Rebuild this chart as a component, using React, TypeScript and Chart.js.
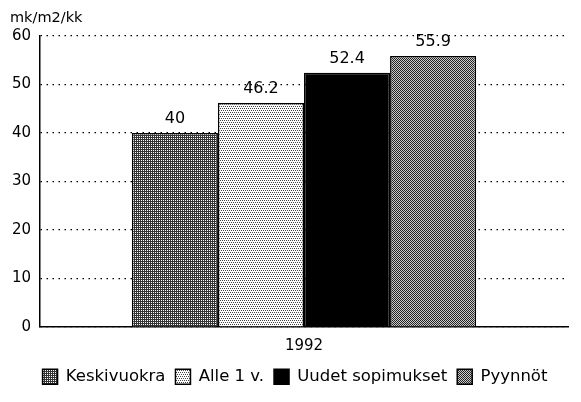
import React, { useEffect, useRef } from "react";
import { Chart, registerables } from "chart.js";
Chart.register(...registerables);

const categories = ["1992"];
const seriesNames = ["Keskivuokra", "Alle 1 v.", "Uudet sopimukset", "Pyynnöt"];
const keskivuokra = [40];
const alle1v = [46.2];
const uudetSopimukset = [52.4];
const pyynnot = [55.9];
const valueLabels = [["40"], ["46.2"], ["52.4"], ["55.9"]];
const yTitle = "mk/m2/kk";
const yMin = 0;
const yMax = 60;
const yStep = 10;

const FONT = "'DejaVu Sans', sans-serif";

function makePattern(rows: string[], dark: string, light: string) {
  const c = document.createElement("canvas");
  c.width = rows[0].length;
  c.height = rows.length;
  const x = c.getContext("2d")!;
  rows.forEach((r, j) =>
    [...r].forEach((ch, i) => {
      x.fillStyle = ch === "#" ? dark : light;
      x.fillRect(i, j, 1, 1);
    })
  );
  return x.createPattern(c, "repeat")!;
}

export default function App() {
  const ref = useRef<HTMLCanvasElement>(null);
  useEffect(() => {
    const pKesk = makePattern(["#.", "##"], "#333333", "#ffffff");
    const pAlle = makePattern(["#.#.", "....", ".#.#", "...."], "#444444", "#ffffff");
    const pUudet = "#000000";
    const pPyyn = makePattern(["#.", ".#"], "#222222", "#cccccc");
    const fills = [pKesk, pAlle, pUudet, pPyyn];
    const data = [keskivuokra, alle1v, uudetSopimukset, pyynnot];

    const valuePlugin = {
      id: "valueLabels",
      afterDatasetsDraw(chart: any) {
        const ctx = chart.ctx;
        ctx.save();
        ctx.font = `16px ${FONT}`;
        ctx.fillStyle = "#000";
        ctx.textAlign = "center";
        ctx.textBaseline = "bottom";
        chart.data.datasets.forEach((ds: any, i: number) => {
          const meta = chart.getDatasetMeta(i);
          meta.data.forEach((el: any, j: number) => {
            ctx.fillText(valueLabels[i][j], el.x, el.y - 6);
          });
        });
        ctx.restore();
      },
    };
    const titlePlugin = {
      id: "yTitle",
      afterDraw(chart: any) {
        const ctx = chart.ctx;
        ctx.save();
        ctx.font = `14.5px ${FONT}`;
        ctx.fillStyle = "#000";
        ctx.textAlign = "left";
        ctx.textBaseline = "middle";
        ctx.fillText(yTitle, chart.chartArea.left - 30, chart.chartArea.top - 18);
        ctx.restore();
      },
    };
    const legendShift = {
      id: "legendShift",
      afterLayout(chart: any) {
        const lg = chart.legend;
        if (lg) {
          lg.left += 11;
          lg.right += 11;
        }
      },
    };

    const chart = new Chart(ref.current!, {
      type: "bar",
      data: {
        labels: categories,
        datasets: seriesNames.map((name, i) => ({
          label: name,
          data: data[i],
          backgroundColor: fills[i] as any,
          borderColor: "#000",
          borderWidth: 1.5,
        })),
      },
      options: {
        responsive: false,
        animation: false,
        layout: { padding: { top: 36, right: 13, bottom: 7, left: 0 } },
        datasets: { bar: { barPercentage: 1, categoryPercentage: 0.652 } },
        scales: {
          x: {
            grid: { display: false, drawTicks: false },
            border: { display: true, color: "#000", width: 1.5 },
            ticks: { color: "#000", padding: 10, font: { family: FONT, size: 15 } },
            afterFit: (s: any) => { s.height = 31.5; },
          },
          y: {
            min: yMin,
            max: yMax,
            ticks: { stepSize: yStep, color: "#000", padding: 9, font: { family: FONT, size: 15 } },
            grid: { color: "#000", lineWidth: 1.2, drawTicks: false },
            border: { display: true, color: "#000", width: 1.5, dash: [1.5, 4.5] },
            afterFit: (s: any) => { s.width = 40; },
          },
        },
        plugins: {
          legend: {
            position: "bottom",
            labels: {
              boxWidth: 15,
              boxHeight: 15,
              padding: 10,
              color: "#000",
              font: { family: FONT, size: 16.5 },
            },
          },
          tooltip: { enabled: false },
        },
      },
      plugins: [valuePlugin, titlePlugin, legendShift],
    });
    return () => chart.destroy();
  }, []);
  return (
    <div style={{ position: "absolute", left: 0, top: 0, width: 581, height: 402, background: "#fff" }}>
      <canvas ref={ref} width={581} height={402} style={{ display: "block" }} />
    </div>
  );
}
